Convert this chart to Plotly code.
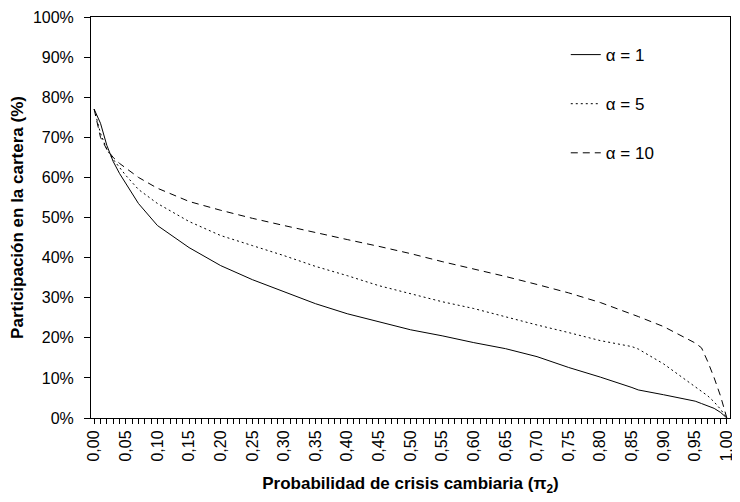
import plotly.graph_objects as go

x_vals = [0.00, 0.01, 0.02, 0.03, 0.04, 0.05, 0.07, 0.10, 0.15, 0.20, 0.25, 0.30,
          0.35, 0.40, 0.45, 0.50, 0.55, 0.60, 0.65, 0.70, 0.75, 0.80, 0.85, 0.86,
          0.90, 0.95, 0.96, 0.97, 0.98, 0.99, 1.00]

alpha_1 = [77, 73.5, 68, 64, 61, 58.5, 53.5, 48, 42.5, 38, 34.5, 31.5,
           28.5, 26, 24, 22, 20.5, 18.8, 17.3, 15.3, 12.6, 10.2, 7.6, 7.0,
           5.8, 4.2, 3.6, 3.0, 2.4, 1.4, 0]

alpha_5 = [77, 71, 67, 64.5, 62.5, 60.5, 57, 53.5, 49, 45.5, 43, 40.5,
           37.8, 35.5, 33, 31, 29, 27.3, 25.2, 23.2, 21.3, 19.3, 17.8, 17.2,
           13.5, 7.8, 6.7, 5.5, 4.0, 2.2, 0]

alpha_10 = [77, 70, 67, 65, 63.5, 62.3, 60, 57.3, 54, 51.8, 49.8, 48,
            46.2, 44.5, 42.8, 41, 39, 37.2, 35.3, 33.3, 31.2, 28.8, 26, 25.3,
            22.8, 18.7, 17.5, 14, 10, 5.5, 0]

series_names = ["α = 1", "α = 5", "α = 10"]
series_vals = [alpha_1, alpha_5, alpha_10]
dashes = ["solid", "2px,3px", "7px,5px"]

FONT = "Liberation Sans, Arial, sans-serif"

fig = go.Figure()
for i, (name, vals, d) in enumerate(zip(series_names, series_vals, dashes)):
    fig.add_trace(go.Scatter(
        x=x_vals, y=vals, mode="lines", name=name,
        legendgroup=f"g{i}",
        line=dict(color="black", width=1, dash=d),
    ))

# page body has an 8px default margin, so the figure is sized to fit inside it
fig.update_layout(
    width=732, height=494,
    margin=dict(l=83, r=10, t=9, b=84),
    paper_bgcolor="white", plot_bgcolor="white",
    separators=",.",
    font=dict(family=FONT, size=16, color="black"),
    showlegend=True,
    legend=dict(
        x=0.743, y=0.95, xanchor="left", yanchor="top",
        bgcolor="rgba(0,0,0,0)", tracegroupgap=24,
        font=dict(family=FONT, size=17, color="black"),
        traceorder="grouped",
    ),
    xaxis=dict(
        range=[-0.005, 1.005], tick0=0, dtick=0.05, tickformat=".2f",
        tickangle=-90, showgrid=False, zeroline=False, automargin=False,
        showline=True, linecolor="black", linewidth=1, mirror=True,
        ticks="outside", ticklen=5, tickcolor="black", tickwidth=1,
        minor=dict(dtick=0.01, ticks="outside", ticklen=5, tickcolor="black", tickwidth=1, showgrid=False),
        tickfont=dict(family=FONT, size=16, color="black"),
        title=dict(text="<b>Probabilidad de crisis cambiaria (π<sub>2</sub>)</b>",
                   font=dict(family=FONT, size=17, color="black"), standoff=16),
    ),
    yaxis=dict(
        range=[0, 100], dtick=10, ticksuffix="%", automargin=False,
        showgrid=False, zeroline=False, ticklabelstandoff=7,
        showline=True, linecolor="black", linewidth=1, mirror=True,
        ticks="outside", ticklen=6, tickcolor="black", tickwidth=1,
        tickfont=dict(family=FONT, size=16, color="black"),
        title=dict(text="<b>Participación en la cartera (%)</b>",
                   font=dict(family=FONT, size=17, color="black"), standoff=10),
    ),
)

fig.write_html("out.html")
